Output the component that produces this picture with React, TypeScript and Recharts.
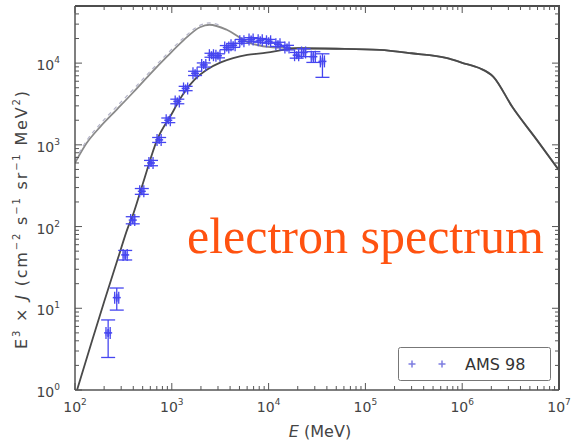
import React from 'react';
import { ComposedChart, Line, Scatter, ErrorBar, XAxis, YAxis, Legend } from 'recharts';

// model curves (E in MeV, E^3 x J)
const upperE = [100, 132, 182, 270, 398, 590, 890, 1320, 1950, 2450, 3700, 6000, 11000, 15000];
const upperJ = [600, 1050, 1660, 2700, 4370, 7240, 12000, 19000, 27500, 29500, 25600, 18200, 15600, 15400];

const lowerE = [105, 150, 200, 280, 355, 390, 500, 705, 1000, 1200, 1700, 2300, 3200, 4300, 6000, 9500, 15000];
const lowerJ = [1, 4, 12, 42, 100, 131, 330, 1150, 2400, 3550, 6200, 8300, 10200, 11500, 12600, 13400, 14600];

// shared high-energy tail
const tailE = [20000, 50000, 140000, 300000, 700000, 1000000, 1500000, 2100000, 3300000, 5900000, 10000000];
const tailJ = [15200, 15000, 14500, 13200, 11500, 10100, 8700, 6800, 2900, 1150, 490];

// light dashed curve riding on the upper model
const dashE = [100, 132, 182, 270, 398, 590, 890, 1320, 1950, 2450, 3300];
const dashJ = [650, 1130, 1800, 2950, 4750, 7800, 12900, 20300, 29000, 31000, 28500];

// AMS 98 points
const amsE = [220, 270, 330, 395, 490, 610, 740, 920, 1140, 1390, 1740, 2140, 2570, 3000, 3700, 4300, 5300, 6600, 8200, 10000, 12500, 15500, 19500, 23000, 29000, 36000];
const amsJ = [5, 13.5, 45, 120, 270, 600, 1150, 2000, 3400, 4900, 7500, 9500, 12500, 12300, 15500, 16500, 18500, 19500, 19000, 18500, 17000, 15500, 12500, 13500, 12000, 10500];
const amsLow = [2.5, 4, 6, 12, 22, 45, 80, 130, 220, 300, 450, 550, 700, 700, 900, 900, 1000, 1000, 1000, 1000, 1000, 1000, 1000, 1500, 1800, 3800];
const amsHigh = [2.2, 4.2, 6, 12, 22, 45, 80, 130, 220, 300, 450, 550, 700, 700, 900, 900, 1000, 1000, 1000, 1000, 1000, 1000, 1000, 1500, 1800, 2500];
const amsXErr = [11, 13, 16, 19, 24, 30, 36, 45, 56, 68, 85, 105, 125, 145, 180, 210, 260, 320, 400, 490, 610, 760, 950, 1100, 1400, 1750];

const xDecades = [2, 3, 4, 5, 6, 7];
const yDecades = [0, 1, 2, 3, 4];
const xDomain = [100, 1e7];
const yDomain = [1, 50000];

const pts = (es: number[], js: number[]) => es.map((E, i) => ({ E, J: js[i] }));
const upperData = pts([...upperE, ...tailE], [...upperJ, ...tailJ]);
const lowerData = pts([...lowerE, ...tailE], [...lowerJ, ...tailJ]);
const dashData = pts(dashE, dashJ);
const amsData = amsE.map((E, i) => ({ E, J: amsJ[i], yErr: [amsLow[i], amsHigh[i]], xErr: amsXErr[i] }));

const minorTicks = (decades: number[], max: number) => {
  const out: number[] = [];
  decades.forEach((d) => {
    for (let m = 1; m <= 9; m++) {
      const v = m * Math.pow(10, d);
      if (v <= max) out.push(v);
    }
  });
  return out;
};
const xTicks = minorTicks(xDecades, 1e7);
const yTicks = minorTicks(yDecades, 49000);

// plot box (chart 574x441 minus margins and axis sizes)
const BOX = { left: 75, top: 6, width: 484, height: 384 };

const AX = '#555';
const FONT = 'DejaVu Sans, sans-serif';
const BLUE = '#4646f0';

const isMajor = (v: number) => Math.abs(Math.log10(v) - Math.round(Math.log10(v))) < 1e-6;
const Pow = ({ v }: { v: number }) => (
  <>
    10<tspan dy={-7} fontSize={9}>{Math.round(Math.log10(v))}</tspan>
  </>
);

const BottomTick = (p: any) => {
  const v = p.payload.value;
  const major = isMajor(v);
  return (
    <g>
      <line x1={p.x} y1={p.y} x2={p.x} y2={p.y - (major ? 7 : 4)} stroke={AX} />
      {major && (
        <text x={p.x} y={p.y + 22} textAnchor="middle" fill="#444" fontSize={14} fontFamily={FONT}>
          <Pow v={v} />
        </text>
      )}
    </g>
  );
};
const LeftTick = (p: any) => {
  const v = p.payload.value;
  const major = isMajor(v);
  return (
    <g>
      <line x1={p.x} y1={p.y} x2={p.x + (major ? 7 : 4)} y2={p.y} stroke={AX} />
      {major && (
        <text x={p.x - 15} y={p.y + 7} textAnchor="end" fill="#444" fontSize={14} fontFamily={FONT}>
          <Pow v={v} />
        </text>
      )}
    </g>
  );
};

// same log mapping as the axes, for the mirrored top/right frame ticks
const logPos = (v: number, [a, b]: number[], len: number) =>
  ((Math.log10(v) - Math.log10(a)) / (Math.log10(b) - Math.log10(a))) * len;

const PlusMark = (p: any) => {
  const { cx, cy } = p;
  return (
    <g stroke={BLUE} strokeWidth={1.5}>
      <rect x={cx - 3} y={cy - 3} width={6} height={6} fill={BLUE} fillOpacity={0.3} stroke="none" />
      <line x1={cx - 4} y1={cy} x2={cx + 4} y2={cy} />
      <line x1={cx} y1={cy - 4} x2={cx} y2={cy + 4} />
    </g>
  );
};

const LegendBox = () => (
  <svg width={153} height={34} style={{ display: 'block' }}>
    <rect x={0.5} y={0.5} width={152} height={33} rx={2} fill="#fff" stroke="#777" />
    {[14, 44].map((x) => (
      <g key={x} stroke="#7c7ce0" strokeWidth={1.5}>
        <line x1={x - 3.5} y1={17} x2={x + 3.5} y2={17} />
        <line x1={x} y1={13.5} x2={x} y2={20.5} />
      </g>
    ))}
    <text x={67} y={23} fontSize={16} fontFamily={FONT} fill="#333">AMS 98</text>
  </svg>
);

export default function App() {
  const right = BOX.left + BOX.width;
  const bottom = BOX.top + BOX.height;
  return (
    <div style={{ position: 'absolute', left: 0, top: 0, width: 574, height: 441, background: '#fff' }}>
      <ComposedChart width={574} height={441} margin={{ top: 6, right: 15, bottom: 0, left: 0 }}>
        <XAxis dataKey="E" type="number" scale="log" domain={xDomain} allowDataOverflow ticks={xTicks} interval={0}
          height={51} tickSize={0} tickMargin={0} tick={BottomTick} axisLine={{ stroke: AX, strokeWidth: 1.5 }} />
        <YAxis dataKey="J" type="number" scale="log" domain={yDomain} allowDataOverflow ticks={yTicks} interval={0}
          width={75} tickSize={0} tickMargin={0} tick={LeftTick} axisLine={{ stroke: AX, strokeWidth: 1.5 }} />
        <Line data={upperData} dataKey="J" type="monotone" stroke="#8a8a8a" strokeWidth={1.8} dot={false} isAnimationActive={false} legendType="none" />
        <Line data={dashData} dataKey="J" type="monotone" stroke="#b4b4c8" strokeWidth={1.2}
          strokeDasharray="4 4" dot={false} isAnimationActive={false} legendType="none" />
        <Line data={lowerData} dataKey="J" type="monotone" stroke="#4a4a4a" strokeWidth={1.8} dot={false} isAnimationActive={false} legendType="none" />
        <Scatter name="AMS 98" data={amsData} dataKey="J" fill={BLUE} shape={PlusMark} isAnimationActive={false}>
          <ErrorBar dataKey="yErr" direction="y" width={7} stroke={BLUE} strokeWidth={1.3} isAnimationActive={false} />
          <ErrorBar dataKey="xErr" direction="x" width={6} stroke={BLUE} strokeWidth={1.3} isAnimationActive={false} />
        </Scatter>
        <Legend layout="horizontal" verticalAlign="middle" align="center" content={LegendBox}
          wrapperStyle={{ left: 398, top: 347, width: 153, height: 34 }} />
      </ComposedChart>
      <svg width={574} height={441} style={{ position: 'absolute', left: 0, top: 0, pointerEvents: 'none' }}>
        {/* top/right frame with inward ticks */}
        <path d={`M${BOX.left},${BOX.top}H${right}V${bottom}`} fill="none" stroke="#4d4d4d" strokeWidth={2} />
        {xTicks.map((v) => {
          const x = BOX.left + logPos(v, xDomain, BOX.width);
          return <path key={'t' + v} d={`M${x},${BOX.top}V${BOX.top + (isMajor(v) ? 7 : 4)}`} stroke={AX} />;
        })}
        {yTicks.map((v) => {
          const y = bottom - logPos(v, yDomain, BOX.height);
          return <path key={'r' + v} d={`M${right},${y}H${right - (isMajor(v) ? 7 : 4)}`} stroke={AX} />;
        })}
        <text x={187} y={253} fontSize={50} fontFamily="Liberation Serif, Times New Roman, serif" fill="#ff5210">electron spectrum</text>
        <text x={320} y={437} textAnchor="middle" fontSize={16} fontFamily={FONT} fill="#444">
          <tspan fontStyle="italic">E</tspan> (MeV)
        </text>
        <text transform="translate(27,220) rotate(-90)" textAnchor="middle" fontSize={16} fontFamily={FONT} fill="#444"
          textLength={258} lengthAdjust="spacing">
          E<tspan dy={-7} fontSize={10}>3</tspan><tspan dy={7}> × </tspan><tspan fontStyle="italic">J</tspan> (cm
          <tspan dy={-7} fontSize={10}>−2</tspan><tspan dy={7}> s</tspan><tspan dy={-7} fontSize={10}>−1</tspan>
          <tspan dy={7}> sr</tspan><tspan dy={-7} fontSize={10}>−1</tspan><tspan dy={7}> MeV</tspan>
          <tspan dy={-7} fontSize={10}>2</tspan><tspan dy={7}>)</tspan>
        </text>
      </svg>
    </div>
  );
}
